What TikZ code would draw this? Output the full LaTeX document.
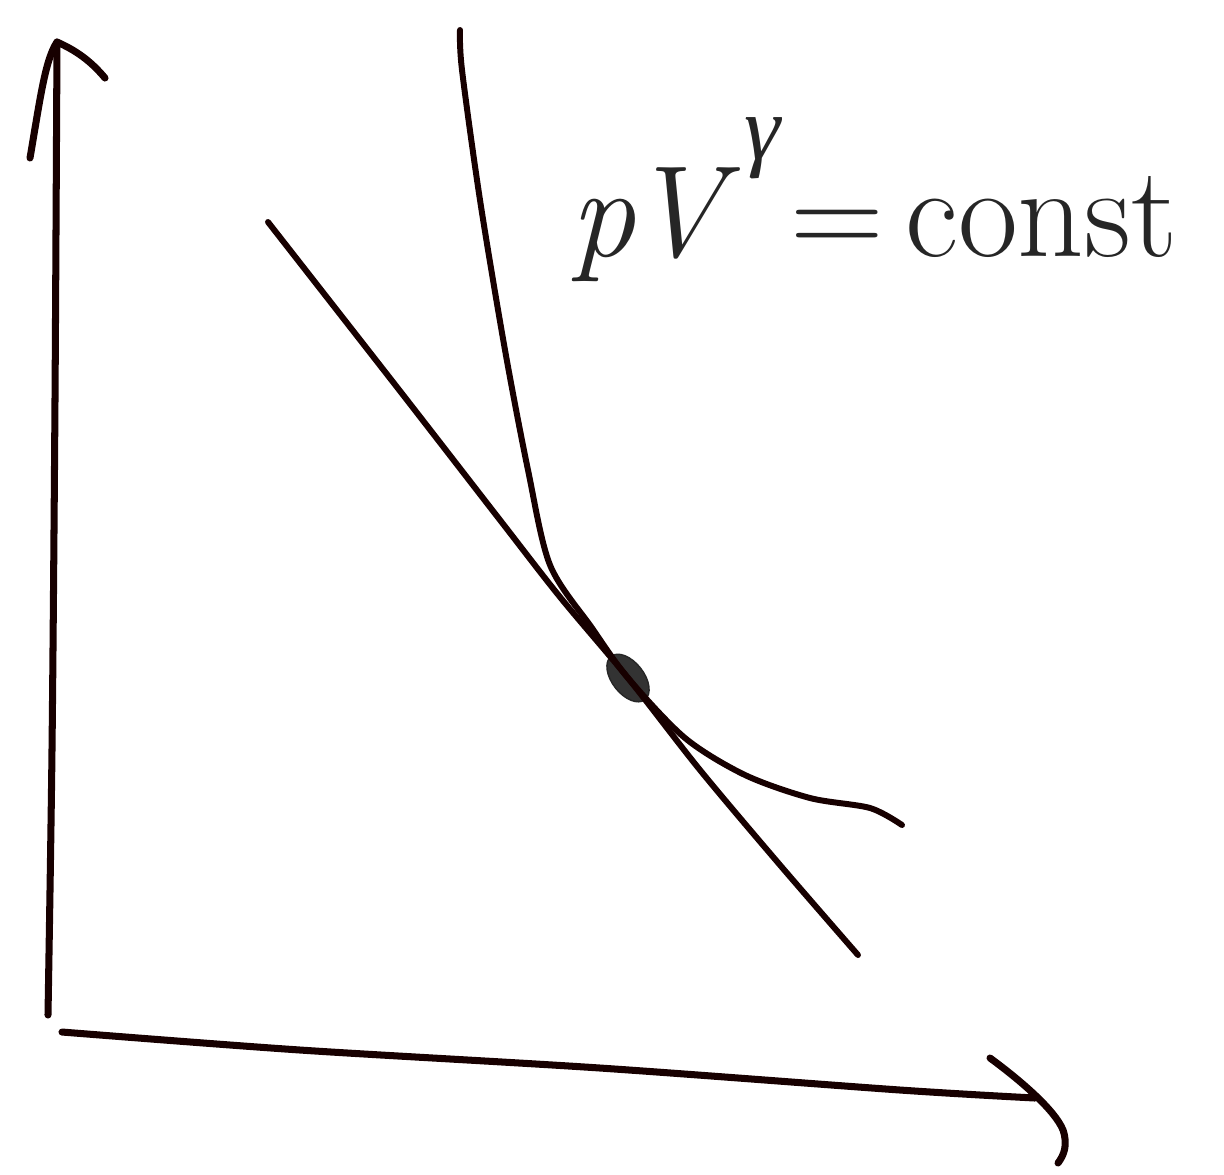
\documentclass[tikz,border=0pt]{standalone}
\usepackage{fontspec}
\newfontfamily\grkfont{Liberation Serif}
\usetikzlibrary{shapes.geometric}
\begin{document}
\begin{tikzpicture}[x=1cm,y=1cm,
  pen/.style={line width=1.7pt, draw=black!85!red!60!black, line cap=round, line join=round},
  axispen/.style={pen, line width=2pt},
  dotmark/.style={ellipse, fill=black!80, draw=black!85, minimum width=0.32cm, minimum height=0.55cm, inner sep=0pt, rotate=38}]
\useasboundingbox (0,0) rectangle (12.24,-11.74);
% named points
\coordinate (yb) at (0.48,-10.15);
\coordinate (yt) at (0.57,-0.42);
\coordinate (xl) at (0.62,-10.32);
\coordinate (xr) at (10.35,-10.98);
\node[dotmark] (pt) at (6.28,-6.78) {};
% axes
\draw[axispen] plot[smooth] coordinates {(yb) (0.52,-7.5) (0.55,-4.0) (yt)};
\draw[axispen] (0.30,-1.58) .. controls (0.40,-1.0) and (0.45,-0.6) .. (yt) .. controls (0.75,-0.50) and (0.90,-0.60) .. (1.05,-0.78);
\draw[axispen] plot[smooth] coordinates {(xl) (3.0,-10.50) (6.0,-10.68) (9.0,-10.90) (xr)};
\draw[axispen] (9.90,-10.58) .. controls (10.20,-10.80) and (10.55,-11.10) .. (10.63,-11.30) .. controls (10.68,-11.45) and (10.64,-11.55) .. (10.58,-11.63);
% straight-ish line
\draw[pen] plot[smooth] coordinates {(2.68,-2.22) (4.0,-3.91) (5.0,-5.20) (5.6,-5.97) (pt.center) (7.0,-7.70) (7.8,-8.65) (8.58,-9.55)};
% steep curve (adiabat)
\draw[pen] plot[smooth] coordinates {(4.60,-0.30) (4.62,-0.70) (4.80,-2.00) (5.05,-3.50) (5.28,-4.70) (5.50,-5.65) (5.92,-6.28) (pt.center) (6.85,-7.38) (7.45,-7.75) (8.10,-7.98) (8.70,-8.08) (9.02,-8.25)};
% label
\node[anchor=base west, inner sep=0pt, text=black!85] (lbl) at (5.70,-2.56)
  {\fontsize{37}{42}\selectfont\itshape p\kern-0.05em V\kern0.16em\raisebox{0.74em}{\fontsize{26}{30}\selectfont\grkfont\itshape γ}\kern0.08em\upshape=\kern0.16em const};
\end{tikzpicture}
\end{document}
